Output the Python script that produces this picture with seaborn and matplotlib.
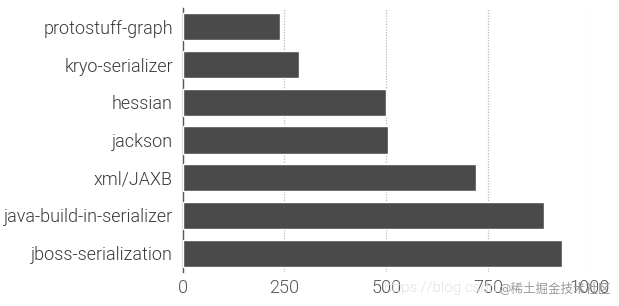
import matplotlib
matplotlib.use("Agg")
import matplotlib.pyplot as plt
import seaborn as sns
import pandas as pd

categories = ["protostuff-graph", "kryo-serializer", "hessian", "jackson",
              "xml/JAXB", "java-build-in-serializer", "jboss-serialization"]
values = [239, 286, 499, 504, 720, 887, 932]
xticks = [0, 250, 500, 750, 1000]

df = pd.DataFrame({"name": categories, "value": values})

sns.set_theme(style="white")
plt.rcParams["font.family"] = ["Roboto", "Noto Sans CJK SC", "DejaVu Sans"]

fig = plt.figure(figsize=(6.19, 3.06), dpi=100)
ax = fig.add_axes([182.5 / 619, 34 / 306, (590 - 182.5) / 619, (298 - 34) / 306])

sns.barplot(data=df, x="value", y="name", color="#4a4a4a", saturation=1,
            width=0.72, ax=ax, zorder=3)

ax.set_xlim(0, 1000)
ax.set_xticks(xticks)
ax.set_xticklabels([str(t) for t in xticks], fontsize=13, color="#555555",
                   fontweight=300)
for lab in ax.get_yticklabels():
    lab.set_fontweight(300)
ax.tick_params(axis="y", labelsize=13, labelcolor="#3a3a3a", length=0, pad=7)
ax.tick_params(axis="x", length=0, pad=5)
ax.set_xlabel("")
ax.set_ylabel("")
for t in xticks[1:]:
    ax.axvline(t, color="#bbbbbb", linestyle=(0, (1, 1.2)), linewidth=0.9, zorder=1)
for s in ["top", "right", "bottom"]:
    ax.spines[s].set_visible(False)
ax.spines["left"].set_color("#555555")
ax.spines["left"].set_linewidth(1.0)

fig.text(0.62, 0.045, "https://blog.csdn", fontsize=11, color="#e2e2e2", zorder=0,
         fontweight=300)
fig.text(0.805, 0.045, "@稀土掘金技术社区", fontsize=9, color="#999999",
         family=["DejaVu Sans", "Noto Sans CJK SC"])

fig.savefig("out.png", dpi=100, facecolor="white")
